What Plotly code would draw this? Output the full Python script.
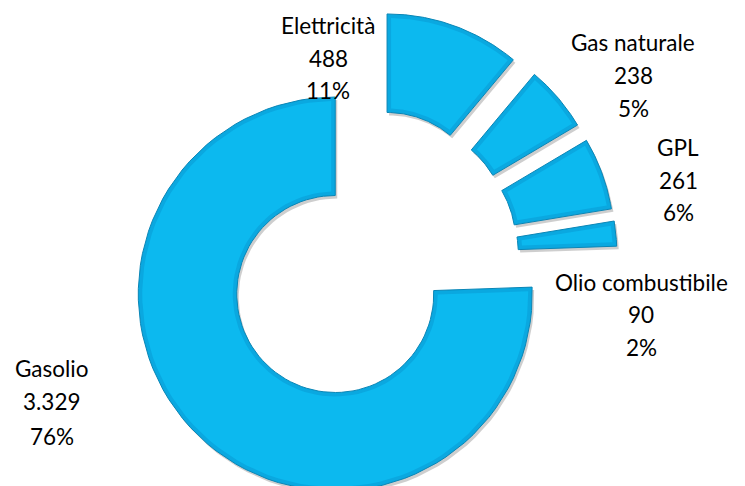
import math
import plotly.graph_objects as go

# Consumi per fonte energetica
categories = ["Elettricità", "Gas naturale", "GPL", "Olio combustibile", "Gasolio"]
values = [488, 238, 261, 90, 3329]

# Donut geometry (units of outer radius)
W, H = 745, 486
SCALE = 197.0            # pixels per unit radius
CX, CY = 370.0, 258.0    # ring centre in pixels
HOLE = 0.5
EXPLODE = 0.254
BEVEL = 4.0 / SCALE

FILL = "#0CB9EF"
FRAME = "#0AA8E0"
EDGE = "#0A86B6"

total = sum(values)


def ring_points(a0, a1, r_out, r_in, inset=0.0, n=80):
    """Polygon of an annular sector, angles clockwise from 12 o'clock (deg)."""
    pts = []
    ro, ri = r_out - inset, r_in + inset
    do = math.degrees(math.asin(inset / ro)) if inset else 0.0
    di = math.degrees(math.asin(inset / ri)) if inset else 0.0
    for k in range(n + 1):
        t = math.radians(a0 + do + (a1 - a0 - 2 * do) * k / n)
        pts.append((ro * math.sin(t), ro * math.cos(t)))
    for k in range(n + 1):
        t = math.radians(a1 - di - (a1 - a0 - 2 * di) * k / n)
        pts.append((ri * math.sin(t), ri * math.cos(t)))
    pts.append(pts[0])
    return pts


fig = go.Figure()

layers = {"shadow": [], "frame": [], "face": []}
start = 0.0
for name, v in zip(categories, values):
    sweep = 360.0 * v / total
    a0, a1 = start, start + sweep
    mid = math.radians((a0 + a1) / 2)
    ox, oy = EXPLODE * math.sin(mid), EXPLODE * math.cos(mid)
    outer = ring_points(a0, a1, 1.0, HOLE)
    inner = ring_points(a0, a1, 1.0, HOLE, inset=BEVEL)
    sdx, sdy = 2.0 / SCALE, -3.0 / SCALE
    layers["shadow"].append(([p[0] + ox + sdx for p in outer], [p[1] + oy + sdy for p in outer], name))
    layers["frame"].append(([p[0] + ox for p in outer], [p[1] + oy for p in outer], name))
    layers["face"].append(([p[0] + ox for p in inner], [p[1] + oy for p in inner], name))
    start = a1

for xs, ys, name in layers["shadow"]:
    fig.add_trace(go.Scatter(x=xs, y=ys, mode="lines", fill="toself",
                             fillcolor="rgba(60,60,60,0.25)", line=dict(width=0),
                             hoverinfo="skip", showlegend=False))
for xs, ys, name in layers["frame"]:
    fig.add_trace(go.Scatter(x=xs, y=ys, mode="lines", fill="toself",
                             fillcolor=FRAME, line=dict(color=EDGE, width=1),
                             name=name, hoverinfo="name", showlegend=False))
for xs, ys, name in layers["face"]:
    fig.add_trace(go.Scatter(x=xs, y=ys, mode="lines", fill="toself",
                             fillcolor=FILL, line=dict(width=0),
                             hoverinfo="skip", showlegend=False))

# Data labels: name, value, share
label_pos = {
    "Elettricità": (328, [25, 58, 91]),
    "Gas naturale": (633, [43, 76, 108]),
    "GPL": (678, [148, 180, 213]),
    "Olio combustibile": (641, [282, 314, 347]),
    "Gasolio": (52, [368, 401, 436]),
}


def fmt_it(n):
    return f"{n:,}".replace(",", ".")


for name, v in zip(categories, values):
    px, ys = label_pos[name]
    pct = f"{round(100 * v / total)}%"
    for txt, py in zip([name, fmt_it(v), pct], ys):
        fig.add_annotation(x=px / W, y=1 - py / H, xref="paper", yref="paper",
                           text=txt, showarrow=False, xanchor="center", yanchor="middle",
                           font=dict(family="Lato", size=22.5, color="#000000"))

fig.update_xaxes(range=[-CX / SCALE, (W - CX) / SCALE], visible=False, fixedrange=True)
fig.update_yaxes(range=[-(H - CY) / SCALE, CY / SCALE], visible=False, fixedrange=True)
fig.update_layout(width=W, height=H, margin=dict(l=0, r=0, t=0, b=0),
                  plot_bgcolor="white", paper_bgcolor="white")

fig.write_html("out.html")
